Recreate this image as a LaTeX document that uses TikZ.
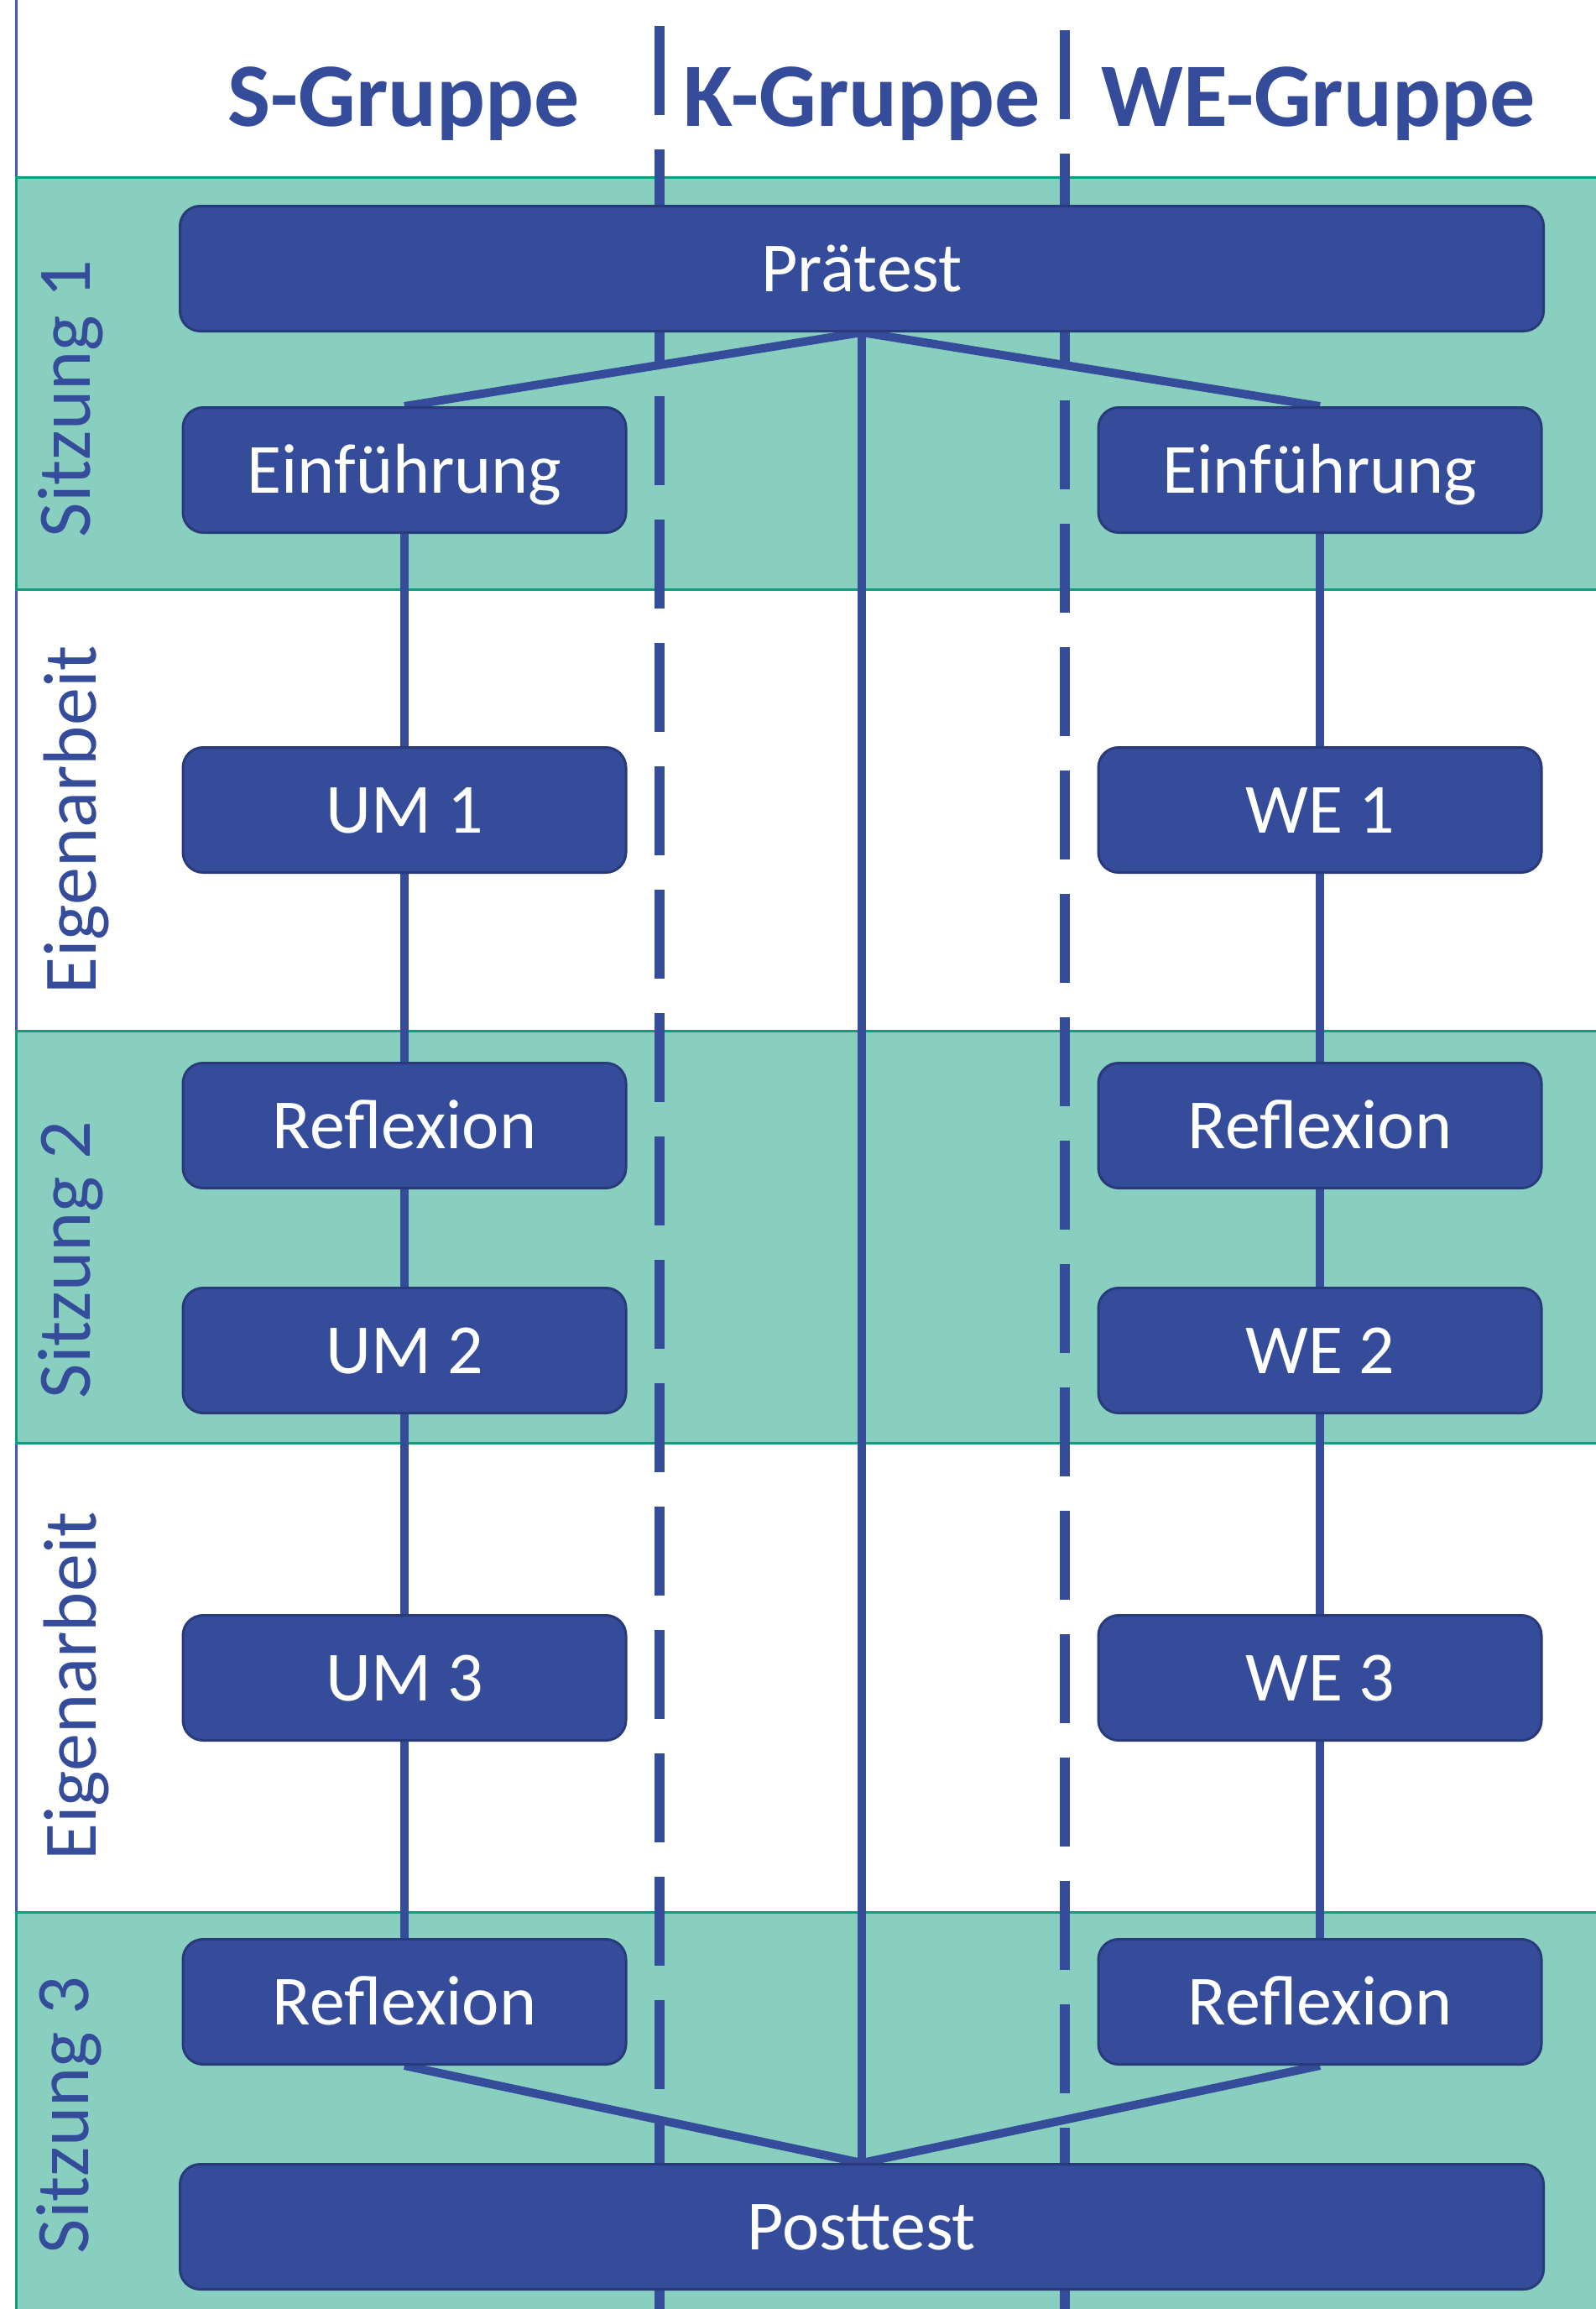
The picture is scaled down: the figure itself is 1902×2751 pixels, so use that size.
\documentclass[tikz,border=0pt]{standalone}
\usepackage{fontspec}
\setmainfont{Carlito}
\definecolor{boxblue}{RGB}{52,76,154}
\definecolor{boxedge}{RGB}{40,58,122}
\definecolor{frameblue}{RGB}{70,88,170}
\definecolor{bandgreen}{RGB}{136,207,192}
\definecolor{bandedge}{RGB}{16,156,126}
\begin{document}
\begin{tikzpicture}[x=1pt,y=-1pt,
  stepbox/.style={rectangle, rounded corners=24pt, fill=boxblue, draw=boxedge, line width=3pt,
    text=white, font=\fontsize{84}{100}\selectfont, minimum width=528pt, minimum height=149pt,
    inner sep=0pt, text height=54pt, text depth=0pt},
  widebox/.style={stepbox, minimum width=1625pt},
  band/.style={fill=bandgreen, draw=bandedge, line width=3pt},
  conn/.style={draw=boxblue, line width=10pt, line join=round},
  divider/.style={draw=boxblue, line width=12pt, dash pattern=on 106pt off 41pt},
  grouphead/.style={text=boxblue, font=\bfseries\fontsize{108}{130}\selectfont, anchor=base, inner sep=0pt},
  phase/.style={text=boxblue, font=\fontsize{90}{108}\selectfont, rotate=90, anchor=base, inner sep=0pt}]
\useasboundingbox (0,0) rectangle (1902,2751);
\clip (0,0) rectangle (1902,2751);
\fill[white] (0,0) rectangle (1902,2751);
% frame line
\draw[draw=frameblue, line width=3pt] (19,-10) -- (19,2760);
% bands
\path[band] (19,211) rectangle (1930,702);
\path[band] (19,1228) rectangle (1930,1719);
\path[band] (19,2278) rectangle (1930,2780);
% dividers
\coordinate (dLtop) at (786,31);
\coordinate (dLbot) at (786,2770);
\coordinate (dRtop) at (1269,36);
\coordinate (dRbot) at (1269,2770);
\draw[divider] (dLtop) -- (dLbot);
\draw[divider] (dRtop) -- (dRbot);
% headers
\node[grouphead] (hS) at (481,150) {S-Gruppe};
\node[grouphead] (hK) at (1027,150) {K-Gruppe};
\node[grouphead] (hW) at (1571,150) {WE-Gruppe};
% phase labels
\node[phase] (p1) at (107,475) {Sitzung 1};
\node[phase] (e1) at (114,977) {Eigenarbeit};
\node[phase] (p2) at (107,1501) {Sitzung 2};
\node[phase] (e2) at (114,2009) {Eigenarbeit};
\node[phase] (p3) at (105,2520) {Sitzung 3};
% box positions (invisible placeholders, so connectors can be drawn beneath the boxes)
\path
  (1027,320) node[widebox, draw=none, fill=none] (pre) {}
  (482,560) node[stepbox, draw=none, fill=none] (einS) {}
  (1573,560) node[stepbox, draw=none, fill=none] (einW) {}
  (482,965) node[stepbox, draw=none, fill=none] (um1) {}
  (1573,965) node[stepbox, draw=none, fill=none] (we1) {}
  (482,1341) node[stepbox, draw=none, fill=none] (refS2) {}
  (1573,1341) node[stepbox, draw=none, fill=none] (refW2) {}
  (482,1609) node[stepbox, draw=none, fill=none] (um2) {}
  (1573,1609) node[stepbox, draw=none, fill=none] (we2) {}
  (482,1999) node[stepbox, draw=none, fill=none] (um3) {}
  (1573,1999) node[stepbox, draw=none, fill=none] (we3) {}
  (482,2385) node[stepbox, draw=none, fill=none] (refS3) {}
  (1573,2385) node[stepbox, draw=none, fill=none] (refW3) {}
  (1027,2653) node[widebox, draw=none, fill=none] (post) {};
% connectors
\draw[conn] (einS.north) -- (pre.south) -- (einW.north);
\draw[conn] (pre.south) -- (post.north);
\draw[conn] (einS.south) -- (um1.north);
\draw[conn] (um1.south) -- (refS2.north);
\draw[conn] (refS2.south) -- (um2.north);
\draw[conn] (um2.south) -- (um3.north);
\draw[conn] (um3.south) -- (refS3.north);
\draw[conn] (einW.south) -- (we1.north);
\draw[conn] (we1.south) -- (refW2.north);
\draw[conn] (refW2.south) -- (we2.north);
\draw[conn] (we2.south) -- (we3.north);
\draw[conn] (we3.south) -- (refW3.north);
\draw[conn] (refS3.south) -- (post.north) -- (refW3.south);
% visible boxes
\node[widebox] (preB) at (pre) {Prätest};
\node[stepbox] (einSB) at (einS) {Einführung};
\node[stepbox] (einWB) at (einW) {Einführung};
\node[stepbox] (um1B) at (um1) {UM 1};
\node[stepbox] (we1B) at (we1) {WE 1};
\node[stepbox] (refS2B) at (refS2) {Reflexion};
\node[stepbox] (refW2B) at (refW2) {Reflexion};
\node[stepbox] (um2B) at (um2) {UM 2};
\node[stepbox] (we2B) at (we2) {WE 2};
\node[stepbox] (um3B) at (um3) {UM 3};
\node[stepbox] (we3B) at (we3) {WE 3};
\node[stepbox] (refS3B) at (refS3) {Reflexion};
\node[stepbox] (refW3B) at (refW3) {Reflexion};
\node[widebox] (postB) at (post) {Posttest};
\end{tikzpicture}
\end{document}
